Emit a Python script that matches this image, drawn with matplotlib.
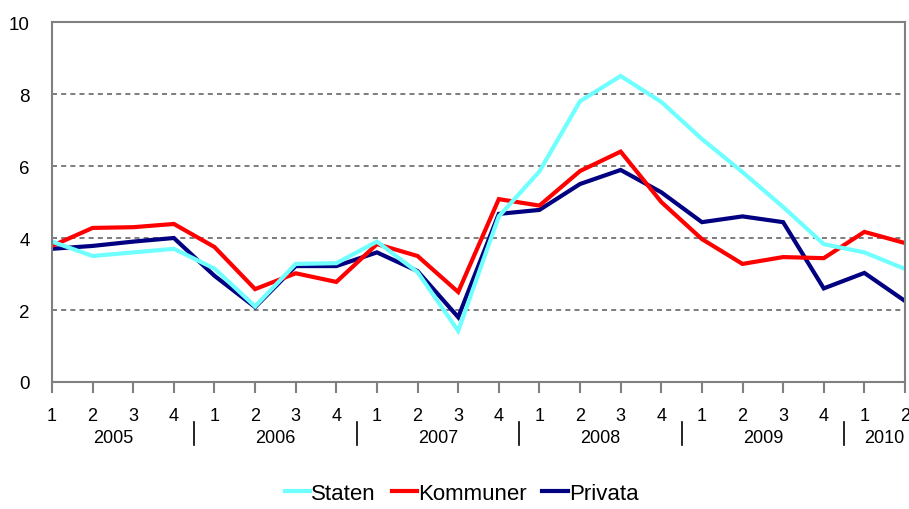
import matplotlib
matplotlib.use("Agg")
import matplotlib.pyplot as plt
import matplotlib.transforms as mtransforms

plt.rcParams['font.family'] = ['Liberation Sans', 'DejaVu Sans']

quarters = ["1", "2", "3", "4", "1", "2", "3", "4", "1", "2", "3", "4",
            "1", "2", "3", "4", "1", "2", "3", "4", "1", "2"]
years = ["2005", "2006", "2007", "2008", "2009", "2010"]
year_quarters = [4, 4, 4, 4, 4, 2]

staten = [3.9, 3.5, 3.6, 3.7, 3.15, 2.1, 3.28, 3.3, 3.9, 3.05, 1.42, 4.6,
          5.85, 7.8, 8.5, 7.78, 6.75, 5.83, 4.86, 3.83, 3.6, 3.14]
kommuner = [3.78, 4.28, 4.3, 4.39, 3.75, 2.58, 3.02, 2.78, 3.83, 3.5, 2.5, 5.08,
            4.9, 5.86, 6.4, 5.0, 3.97, 3.28, 3.47, 3.44, 4.17, 3.86]
privata = [3.7, 3.78, 3.9, 4.0, 2.95, 2.08, 3.22, 3.22, 3.6, 3.08, 1.8, 4.67,
           4.78, 5.5, 5.89, 5.27, 4.44, 4.6, 4.44, 2.6, 3.03, 2.25]

fig = plt.figure(figsize=(9.09, 5.10), dpi=100)
ax = fig.add_axes([52/909, 1 - 383/510, (905 - 52)/909, (383 - 23)/510])

x = list(range(len(quarters)))
lp, = ax.plot(x, privata, color="#000080", lw=3, label="Privata", solid_joinstyle="miter")
lk, = ax.plot(x, kommuner, color="#FF0000", lw=3, label="Kommuner", solid_joinstyle="miter")
ls, = ax.plot(x, staten, color="#70FFFF", lw=3, label="Staten", solid_joinstyle="miter")

ax.set_xlim(0, len(quarters) - 1)
ax.set_ylim(0, 10)
ax.set_yticks([0, 2, 4, 6, 8, 10])
ax.set_xticks(x)
ax.set_xticklabels(quarters)

for yv in [2, 4, 6, 8]:
    ax.axhline(yv, color="#666666", lw=1.2, ls=(0, (3, 2.5)), zorder=0)

for s in ax.spines.values():
    s.set_color("#808080")
    s.set_linewidth(1.5)

ax.tick_params(axis="y", length=0, pad=16, labelsize=13.5, colors="black")
ax.tick_params(axis="x", length=8, width=1.5, color="#808080", pad=10,
               labelsize=13, labelcolor="black")

trans = mtransforms.blended_transform_factory(ax.transData, ax.transAxes)
start = 0
for i, (yr, n) in enumerate(zip(years, year_quarters)):
    center = start + (n - 1) / 2
    ax.text(center, -0.153, yr, transform=trans, ha="center", va="center",
            fontsize=13)
    if i > 0:
        sep = start - 0.5
        ax.plot([sep, sep], [-0.111, -0.175], transform=trans, color="black",
                lw=1.2, clip_on=False)
    start += n

fig.legend(handles=[ls, lk, lp], labels=["Staten", "Kommuner", "Privata"],
           loc="center", bbox_to_anchor=(0.508, 0.03), ncol=3, frameon=False,
           fontsize=16, handlelength=1.15, handletextpad=0.05, columnspacing=0.7,
           borderpad=0, borderaxespad=0)

fig.savefig("out.png", dpi=100)
